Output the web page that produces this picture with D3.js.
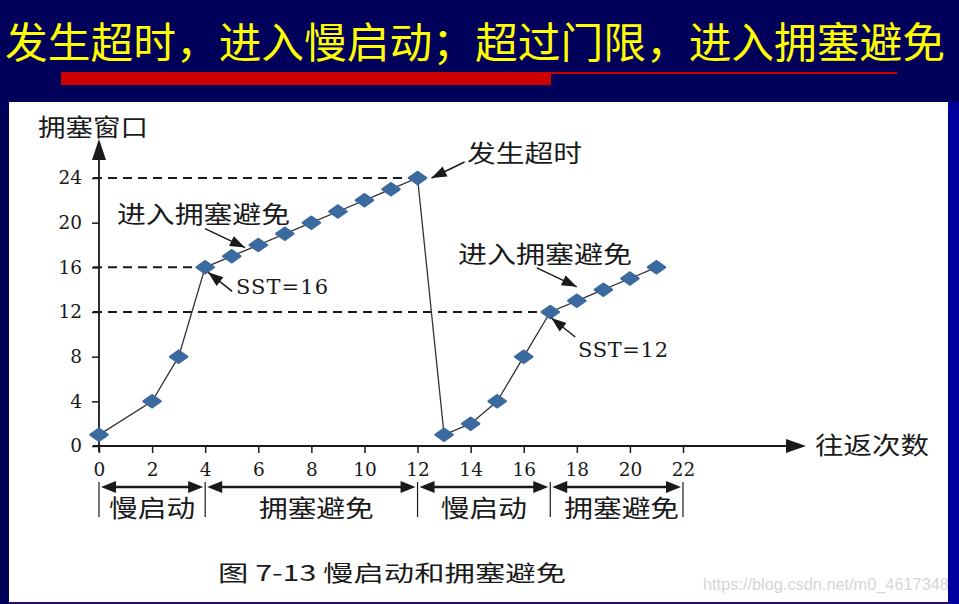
<!DOCTYPE html>
<html>
<head>
<meta charset="utf-8">
<script src="https://cdn.jsdelivr.net/npm/d3@7"></script>
<style>
  html, body { margin: 0; padding: 0; background: #00005a; }
  svg { display: block; }
</style>
</head>
<body>
<svg id="chart" width="959" height="604"></svg>
<script>

// Data

const rounds = [ 0, 2, 3, 4, 5, 6, 7, 8, 9, 10, 11, 12, 13, 14, 15, 16, 17, 18, 19, 20, 21 ];
const cwnd   = [ 1, 4, 8, 16, 17, 18, 19, 20, 21, 22, 23, 24, 1, 2, 4, 8, 12, 13, 14, 15, 16 ];

const yTicks = [ 0, 4, 8, 12, 16, 20, 24 ];
const xTicks = [ 0, 2, 4, 6, 8, 10, 12, 14, 16, 18, 20, 22 ];

// thresholds: [ value, round where the dashed line stops ]
const thresholds = [ [ 24, 12 ], [ 16, 4 ], [ 12, 17 ] ];

const phaseNames  = [ "慢启动", "拥塞避免", "慢启动", "拥塞避免" ];
const phaseBounds = [ 0, 4, 12, 17, 22 ];

const titleText   = "发生超时，进入慢启动；超过门限，进入拥塞避免";
const captionText = "图 7-13 慢启动和拥塞避免";
const yLabel = "拥塞窗口";
const xLabel = "往返次数";

const svg = d3.select( "#chart" );

// Background frame

svg.append( "rect" )
  .attr( "x", 0 ).attr( "y", 0 )
  .attr( "width", 959 ).attr( "height", 604 )
  .attr( "fill", "#00005a" );

svg.append( "text" )
  .attr( "x", 5 )
  .attr( "y", 39 )
  .attr( "dominant-baseline", "central" )
  .attr( "textLength", 940 )
  .attr( "lengthAdjust", "spacingAndGlyphs" )
  .attr( "fill", "#ffff00" )
  .style( "font-family", "'Noto Sans CJK SC'" )
  .style( "font-size", "42px" )
  .text( titleText );

svg.append( "rect" )
  .attr( "x", 61 ).attr( "y", 72 )
  .attr( "width", 490 ).attr( "height", 13 )
  .attr( "fill", "#cc0000" );

svg.append( "rect" )
  .attr( "x", 551 ).attr( "y", 72 )
  .attr( "width", 346 ).attr( "height", 2 )
  .attr( "fill", "#cc0000" );

svg.append( "rect" )
  .attr( "x", 9 ).attr( "y", 102 )
  .attr( "width", 939 ).attr( "height", 500 )
  .attr( "fill", "#ffffff" );

// Scales

const x = d3.scaleLinear().domain( [ 0, 22 ] ).range( [ 99, 683 ] );
const y = d3.scaleLinear().domain( [ 0, 24 ] ).range( [ 446, 178 ] );

const ink = "#1a1a1a";
const serif = "'DejaVu Serif', serif";
const cjk = "'Noto Sans CJK SC'";

// Axes

const yAxis = svg.append( "g" )
  .attr( "transform", "translate(" + x( 0 ) + ",0)" )
  .call( d3.axisLeft( y ).tickValues( yTicks ).tickSize( 7 ).tickPadding( 10 ) );

const xAxis = svg.append( "g" )
  .attr( "transform", "translate(0," + y( 0 ) + ")" )
  .call( d3.axisBottom( x ).tickValues( xTicks ).tickSize( 7 ).tickPadding( 5 ) );

[ yAxis, xAxis ].forEach( a => {
  a.select( ".domain" ).remove();
  a.selectAll( "line" ).attr( "stroke", ink ).attr( "stroke-width", 1.5 );
  a.selectAll( "text" )
    .attr( "fill", ink )
    .style( "font-family", serif )
    .style( "font-size", "18.5px" );
} );

xAxis.selectAll( "text" ).attr( "dy", "0.95em" );

svg.append( "line" )
  .attr( "x1", x( 0 ) ).attr( "y1", y( 0 ) + 6 )
  .attr( "x2", x( 0 ) ).attr( "y2", 156 )
  .attr( "stroke", ink ).attr( "stroke-width", 1.8 );

svg.append( "path" )
  .attr( "d", d3.line()( [ [ x( 0 ), 139 ], [ x( 0 ) + 7, 160 ], [ x( 0 ) - 7, 160 ] ] ) + "Z" )
  .attr( "fill", ink );

svg.append( "line" )
  .attr( "x1", x( 0 ) - 6 ).attr( "y1", y( 0 ) )
  .attr( "x2", 790 ).attr( "y2", y( 0 ) )
  .attr( "stroke", ink ).attr( "stroke-width", 1.8 );

svg.append( "path" )
  .attr( "d", d3.line()( [ [ 806, y( 0 ) ], [ 786, y( 0 ) - 7 ], [ 786, y( 0 ) + 7 ] ] ) + "Z" )
  .attr( "fill", ink );

svg.append( "text" )
  .attr( "x", 38 ).attr( "y", 125 )
  .attr( "dominant-baseline", "central" )
  .attr( "textLength", 110 )
  .attr( "lengthAdjust", "spacingAndGlyphs" )
  .attr( "fill", ink )
  .style( "font-family", cjk )
  .style( "font-size", "24px" )
  .text( yLabel );

svg.append( "text" )
  .attr( "x", 815 ).attr( "y", 443 )
  .attr( "dominant-baseline", "central" )
  .attr( "textLength", 114 )
  .attr( "lengthAdjust", "spacingAndGlyphs" )
  .attr( "fill", ink )
  .style( "font-family", cjk )
  .style( "font-size", "24px" )
  .text( xLabel );

// Dashed threshold lines

svg.selectAll( "line.threshold" )
  .data( thresholds )
  .enter().append( "line" )
    .attr( "class", "threshold" )
    .attr( "x1", x( 0 ) - 6 )
    .attr( "x2", d => x( d[ 1 ] ) )
    .attr( "y1", d => y( d[ 0 ] ) )
    .attr( "y2", d => y( d[ 0 ] ) )
    .attr( "stroke", ink )
    .attr( "stroke-width", 2 )
    .attr( "stroke-dasharray", "9,6" );

// Series

const points = rounds.map( ( r, i ) => [ r, cwnd[ i ] ] );

svg.append( "path" )
  .datum( points )
  .attr( "d", d3.line().x( d => x( d[ 0 ] ) ).y( d => y( d[ 1 ] ) ) )
  .attr( "fill", "none" )
  .attr( "stroke", "#333" )
  .attr( "stroke-width", 1.3 );

svg.selectAll( "path.marker" )
  .data( points )
  .enter().append( "path" )
    .attr( "class", "marker" )
    .attr( "transform", d => "translate(" + x( d[ 0 ] ) + "," + y( d[ 1 ] ) + ")" )
    .attr( "d", "M0,-6L8.5,0L0,6L-8.5,0Z" )
    .attr( "fill", "#3b6a9f" )
    .attr( "stroke", "#3b6a9f" )
    .attr( "stroke-width", 2.5 )
    .attr( "stroke-linejoin", "round" );

// Annotations: text, text box, arrow tail / tip offsets relative to a data point

const annotations = [
  { text: "发生超时",     at: [ 12, 24 ],     tx: 467, ty: 151, w: 115, font: cjk,   tail: [ 47, -16 ], tip: [ 14, 0 ] },
  { text: "进入拥塞避免", at: [ 5.5, 17.5 ],  tx: 117, ty: 212, w: 173, font: cjk,   tail: [ -40, -22 ], tip: [ 0, -3 ] },
  { text: "SST=16",      at: [ 4, 16 ],      tx: 236, ty: 287, w: 92,  font: serif, tail: [ 27, 24 ], tip: [ 3, 5 ] },
  { text: "进入拥塞避免", at: [ 18, 13 ],     tx: 458, ty: 252, w: 174, font: cjk,   tail: [ -40, -33 ], tip: [ 0, -14 ] },
  { text: "SST=12",      at: [ 17, 12 ],     tx: 578, ty: 350, w: 90,  font: serif, tail: [ 25, 25 ], tip: [ 1, 6 ] }
];

const arrowHead = ( tail, tip, len, half ) => {
  const dx = tip[ 0 ] - tail[ 0 ], dy = tip[ 1 ] - tail[ 1 ];
  const l = Math.hypot( dx, dy ), ux = dx / l, uy = dy / l;
  const bx = tip[ 0 ] - ux * len, by = tip[ 1 ] - uy * len;
  return d3.line()( [ tip, [ bx - uy * half, by + ux * half ], [ bx + uy * half, by - ux * half ] ] ) + "Z";
};

annotations.forEach( a => {

  const px = x( a.at[ 0 ] ), py = y( a.at[ 1 ] );
  const tail = [ px + a.tail[ 0 ], py + a.tail[ 1 ] ];
  const tip = [ px + a.tip[ 0 ], py + a.tip[ 1 ] ];

  svg.append( "line" )
    .attr( "x1", tail[ 0 ] ).attr( "y1", tail[ 1 ] )
    .attr( "x2", tip[ 0 ] ).attr( "y2", tip[ 1 ] )
    .attr( "stroke", ink ).attr( "stroke-width", 1.5 );

  svg.append( "path" )
    .attr( "d", arrowHead( tail, tip, 15, 5.5 ) )
    .attr( "fill", ink );

  svg.append( "text" )
    .attr( "x", a.tx ).attr( "y", a.ty )
    .attr( "dominant-baseline", "central" )
    .attr( "textLength", a.w )
    .attr( "lengthAdjust", a.font === serif ? "spacing" : "spacingAndGlyphs" )
    .attr( "fill", ink )
    .style( "font-family", a.font )
    .style( "font-size", a.font === serif ? "21px" : "24px" )
    .text( a.text );

} );

// Phase brackets under the x axis

const phaseY = 487;

svg.selectAll( "line.bound" )
  .data( phaseBounds )
  .enter().append( "line" )
    .attr( "class", "bound" )
    .attr( "x1", d => x( d ) ).attr( "x2", d => x( d ) )
    .attr( "y1", phaseY - 5 ).attr( "y2", 517 )
    .attr( "stroke", ink ).attr( "stroke-width", 1.2 );

phaseNames.forEach( ( name, i ) => {

  const a = x( phaseBounds[ i ] ) + 2, b = x( phaseBounds[ i + 1 ] ) - 2;
  const w = name.length * 28.7;

  svg.append( "line" )
    .attr( "x1", a + 10 ).attr( "x2", b - 10 )
    .attr( "y1", phaseY ).attr( "y2", phaseY )
    .attr( "stroke", ink ).attr( "stroke-width", 2.5 );

  svg.append( "path" )
    .attr( "d", arrowHead( [ b - 20, phaseY ], [ a, phaseY ], 15, 6 ) )
    .attr( "fill", ink );

  svg.append( "path" )
    .attr( "d", arrowHead( [ a + 20, phaseY ], [ b, phaseY ], 15, 6 ) )
    .attr( "fill", ink );

  svg.append( "text" )
    .attr( "x", ( a + b ) / 2 + ( name.length > 3 ? 5 : 0 ) - w / 2 )
    .attr( "y", 506 )
    .attr( "dominant-baseline", "central" )
    .attr( "textLength", w )
    .attr( "lengthAdjust", "spacingAndGlyphs" )
    .attr( "fill", ink )
    .style( "font-family", cjk )
    .style( "font-size", "24px" )
    .text( name );

} );

// Caption and watermark

svg.append( "text" )
  .attr( "x", 218 ).attr( "y", 571 )
  .attr( "dominant-baseline", "central" )
  .attr( "textLength", 348 )
  .attr( "lengthAdjust", "spacingAndGlyphs" )
  .attr( "fill", ink )
  .style( "font-family", cjk )
  .style( "font-size", "22px" )
  .text( captionText );

svg.append( "text" )
  .attr( "x", 703 ).attr( "y", 584 )
  .attr( "dominant-baseline", "central" )
  .attr( "textLength", 255 )
  .attr( "lengthAdjust", "spacingAndGlyphs" )
  .attr( "fill", "#d6d6d6" )
  .style( "font-family", "'Liberation Sans', sans-serif" )
  .style( "font-size", "16px" )
  .text( "https://blog.csdn.net/m0_46173483" );

// Right and bottom edges of the slide

svg.append( "rect" )
  .attr( "x", 948 ).attr( "y", 102 )
  .attr( "width", 11 ).attr( "height", 502 )
  .attr( "fill", "#00009c" );

svg.append( "rect" )
  .attr( "x", 9 ).attr( "y", 602 )
  .attr( "width", 939 ).attr( "height", 2 )
  .attr( "fill", "#2a0a6a" );

svg.append( "rect" )
  .attr( "x", 0 ).attr( "y", 102 )
  .attr( "width", 9 ).attr( "height", 502 )
  .attr( "fill", "#00005a" );

</script>
</body>
</html>
